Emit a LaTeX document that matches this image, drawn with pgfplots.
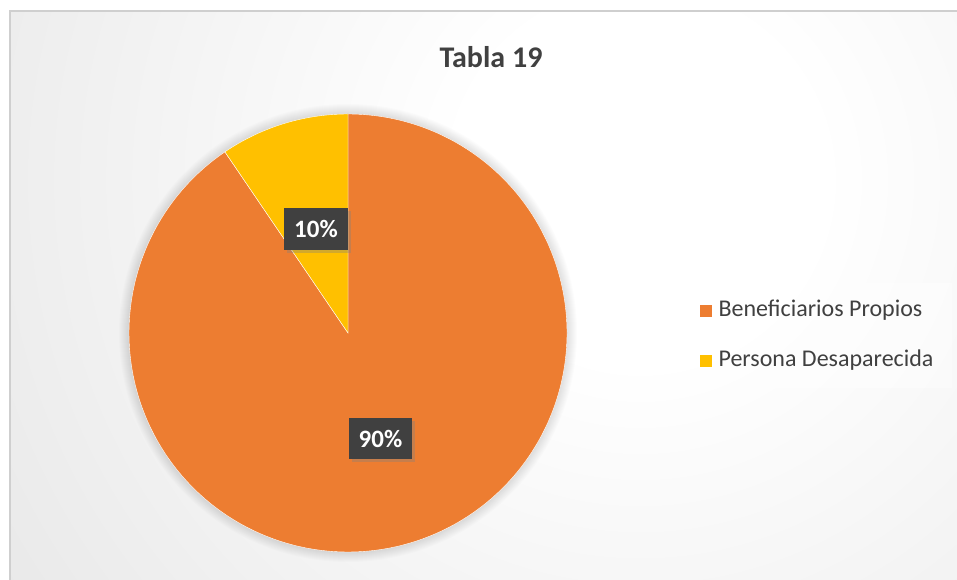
\documentclass[border=0pt]{standalone}
\usepackage{pgfplots}
\usepackage{pgfplotstable}
\pgfplotsset{compat=1.18}
\usepackage{fontspec}
\setmainfont{Carlito}
\usetikzlibrary{shadows}
\definecolor{orangeC}{HTML}{ED7D31}
\definecolor{yellowC}{HTML}{FFC000}
\definecolor{txt}{HTML}{404040}
\definecolor{lblbox}{HTML}{404040}
\definecolor{bgA}{HTML}{E3E3E3}
\definecolor{bgB}{HTML}{CDCDCD}
\definecolor{frameC}{HTML}{CFCFCF}
\pgfdeclareradialshading{bgshade}{\pgfpoint{0bp}{0bp}}{color(0bp)=(white); color(6bp)=(white); color(30bp)=(bgA); color(50bp)=(bgB)}

\pgfplotstableread{
label value
Beneficiarios 90.5
Persona 9.5
}\piedata

\begin{document}
\begin{tikzpicture}[x=1pt,y=1pt]
\useasboundingbox (0,0) rectangle (957,580);
\fill[white] (0,0) rectangle (957,580);
\begin{scope}
\clip (10,0) rectangle (957,569);
\shade[shading=bgshade] (640,400) circle (760);
\foreach \r in {1,...,10} {
  \fill[black, opacity=0.012] (348,247) circle ({219+\r});
}
\end{scope}
\draw[frameC, line width=1.6pt] (10,-5) -- (10,569) -- (962,569);

\pgfplotstablegetelem{0}{value}\of\piedata \let\va\pgfplotsretval
\pgfplotstablegetelem{1}{value}\of\piedata \let\vb\pgfplotsretval
\pgfmathsetmacro\aend{90-3.6*\va}
\pgfmathsetmacro\bstart{90+3.6*\vb}

\begin{axis}[at={(0,0)}, anchor=south west, scale only axis,
  width=957pt, height=580pt, xmin=0, xmax=957, ymin=0, ymax=580,
  hide axis, clip=false,
  legend cell align=left,
  legend style={at={(axis cs:686,297)}, anchor=north west, draw=none,
    fill=white, fill opacity=0.4, text opacity=1,
    inner xsep=13pt, inner ysep=17pt, row sep=29pt,
    font=\fontsize{24}{28}\selectfont, text=txt,
    nodes={inner xsep=6pt, inner ysep=0pt, text height=16pt, text depth=5pt}},
  legend image code/.code={\fill[#1, fill opacity=1] (0pt,-6.5pt) rectangle (13pt,6.5pt);},
]
\addplot[fill=orangeC, draw=white, line width=0.4pt, domain=\aend:90, samples=240, variable=\t]
  ({348+219*cos(\t)}, {247+219*sin(\t)}) -- (axis cs:348,247) -- cycle;
\addlegendentry{Beneficiarios Propios}
\addplot[fill=yellowC, draw=white, line width=0.4pt, domain=90:\bstart, samples=40, variable=\t]
  ({348+219*cos(\t)}, {247+219*sin(\t)}) -- (axis cs:348,247) -- cycle;
\addlegendentry{Persona Desaparecida}

\node[fill=lblbox, text=white, minimum width=64pt, minimum height=42pt, inner sep=0pt,
  font=\fontsize{25}{30}\selectfont\bfseries,
  drop shadow={shadow xshift=3pt, shadow yshift=-3pt, opacity=0.35}]
  at (axis cs:316,351) {10\%};
\node[fill=lblbox, text=white, minimum width=63pt, minimum height=41pt, inner sep=0pt,
  font=\fontsize{25}{30}\selectfont\bfseries,
  drop shadow={shadow xshift=3pt, shadow yshift=-3pt, opacity=0.35}]
  at (axis cs:380.5,141.5) {90\%};
\node[anchor=base, text=txt, font=\fontsize{30}{36}\selectfont\bfseries]
  at (axis cs:491,512) {Tabla 19};
\end{axis}
\end{tikzpicture}
\end{document}
